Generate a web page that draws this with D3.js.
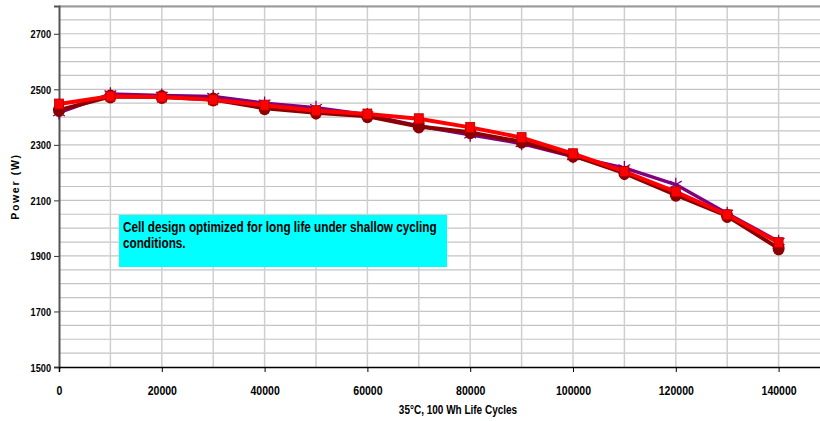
<!DOCTYPE html>
<html>
<head>
<meta charset="utf-8">
<script src="https://cdn.jsdelivr.net/npm/d3@7"></script>
<style>
  body { margin: 0; background: #fff; }
  text { font-family: "Liberation Sans Narrow", "Arial Narrow", "Liberation Sans", Arial, sans-serif; font-weight: bold; fill: #000; }
</style>
</head>
<body>
<div class="chart"></div>
<script>
// cycles on x axis
var cycles = [0, 10000, 20000, 30000, 40000, 50000, 60000, 70000, 80000, 90000, 100000, 110000, 120000, 130000, 140000];

// three cells
var cellPurple = [2416, 2483, 2478, 2474, 2450, 2434, 2408, 2368, 2336, 2305, 2258, 2217, 2157, 2053, 1952];
var cellMaroon = [2425, 2474, 2472, 2463, 2432, 2416, 2403, 2366, 2345, 2311, 2261, 2198, 2120, 2044, 1927];
var cellRed    = [2447, 2475, 2472, 2462, 2443, 2423, 2411, 2394, 2363, 2326, 2268, 2204, 2131, 2048, 1948];

var yTickValues = [1500, 1700, 1900, 2100, 2300, 2500, 2700];
var xTickValues = [0, 20000, 40000, 60000, 80000, 100000, 120000, 140000];

var note = ["Cell design optimized for long life under shallow cycling", "conditions."];

var svgWidth = 820;
var svgHeight = 421;
var margin = { top: 6, left: 59, bottom: 54 };
var plotBottom = svgHeight - margin.bottom;

var svg = d3.select(".chart")
  .append("svg")
  .attr("width", svgWidth)
  .attr("height", svgHeight);

// x goes a bit past the right edge of the picture
var x = d3.scaleLinear().domain([0, 150000]).range([margin.left, 830]);
var y = d3.scaleLinear().domain([1500, 2800]).range([plotBottom, margin.top]);

// the original text is a condensed face, squeeze ours sideways around its anchor
function squeeze(sel, sx) {
  sel.each(function() {
    var t = d3.select(this);
    var ax = +t.attr("x") || 0;
    t.attr("transform", "translate(" + ax + ",0) scale(" + sx + ",1) translate(" + (-ax) + ",0)");
  });
}

// grid
svg.append("g")
  .selectAll("line")
  .data(d3.range(1550, 2801, 50))
  .enter().append("line")
  .attr("x1", margin.left).attr("x2", svgWidth)
  .attr("y1", function(d) { return y(d); })
  .attr("y2", function(d) { return y(d); })
  .attr("stroke", "#c4c4c4")
  .attr("stroke-width", 1.2);

svg.append("g")
  .selectAll("line")
  .data(d3.range(10000, 150001, 10000))
  .enter().append("line")
  .attr("x1", function(d) { return x(d); })
  .attr("x2", function(d) { return x(d); })
  .attr("y1", margin.top).attr("y2", plotBottom)
  .attr("stroke", "#cfcfcf")
  .attr("stroke-width", 1.5);

// top border
svg.append("line")
  .attr("x1", margin.left).attr("x2", svgWidth)
  .attr("y1", margin.top + 0.5).attr("y2", margin.top + 0.5)
  .attr("stroke", "#9a9a9a")
  .attr("stroke-width", 2);

// axes
var leftAxis = d3.axisLeft(y).tickValues(yTickValues).tickSize(5).tickPadding(3).tickFormat(d3.format("d"));
var bottomAxis = d3.axisBottom(x).tickValues(xTickValues).tickSize(5).tickPadding(13).tickFormat(d3.format("d"));

var gy = svg.append("g")
  .attr("transform", "translate(" + margin.left + ",0)")
  .call(leftAxis);
gy.select(".domain").attr("stroke", "#555").attr("stroke-width", 2);
gy.selectAll(".tick line").attr("stroke", "#333");
gy.selectAll(".tick text").style("font-size", "11.5px").attr("dy", "0.35em");
squeeze(gy.selectAll(".tick text"), 0.8);

var gx = svg.append("g")
  .attr("transform", "translate(0," + plotBottom + ")")
  .call(bottomAxis);
gx.select(".domain").attr("stroke", "#000").attr("stroke-width", 1.5);
gx.selectAll(".tick line").attr("stroke", "#000");
gx.selectAll(".tick text").style("font-size", "13.5px");
squeeze(gx.selectAll(".tick text"), 0.78);

// axis titles
svg.append("text")
  .attr("transform", "translate(19," + (y(2150)) + ") rotate(-90)")
  .attr("text-anchor", "middle")
  .style("font-family", "'Liberation Sans', Arial, sans-serif")
  .style("font-size", "10.5px")
  .style("letter-spacing", "1.7px")
  .text("Power (W)");

var xTitle = svg.append("text")
  .attr("x", 458)
  .attr("y", 414)
  .attr("text-anchor", "middle")
  .style("font-size", "12.5px")
  .text("35°C, 100 Wh Life Cycles");
squeeze(xTitle, 0.8);

// note box
var noteG = svg.append("g");
noteG.append("rect")
  .attr("x", 119).attr("y", 215)
  .attr("width", 328).attr("height", 52)
  .attr("fill", "#00ffff");
var noteText = noteG.selectAll("text.note")
  .data(note)
  .enter().append("text")
  .attr("class", "note")
  .attr("x", 123)
  .attr("y", function(d, i) { return 232 + i * 16; })
  .style("font-size", "14.5px")
  .text(function(d) { return d; });
squeeze(noteText, 0.81);

// lines
var series = [
  { name: "purple", values: cellPurple, color: "#800080", width: 3.5 },
  { name: "maroon", values: cellMaroon, color: "#8b0000", width: 4 },
  { name: "red", values: cellRed, color: "#ff0000", width: 4 }
];

var line = d3.line()
  .x(function(d) { return x(d[0]); })
  .y(function(d) { return y(d[1]); });

series.forEach(function(s) {
  var pts = cycles.map(function(c, i) { return [c, s.values[i]]; });
  svg.append("path")
    .datum(pts)
    .attr("fill", "none")
    .attr("stroke", s.color)
    .attr("stroke-width", s.width)
    .attr("stroke-linejoin", "round")
    .attr("d", line);

  var g = svg.append("g");
  if (s.name === "purple") {
    g.selectAll("path")
      .data(pts)
      .enter().append("path")
      .attr("transform", function(d) { return "translate(" + x(d[0]) + "," + y(d[1]) + ")"; })
      .attr("d", d3.symbol().type(d3.symbolAsterisk).size(130))
      .attr("fill", "none")
      .attr("stroke", "#800080")
      .attr("stroke-width", 1.3);
  } else if (s.name === "maroon") {
    g.selectAll("ellipse")
      .data(pts)
      .enter().append("ellipse")
      .attr("cx", function(d) { return x(d[0]); })
      .attr("cy", function(d) { return y(d[1]); })
      .attr("rx", 6).attr("ry", 7)
      .attr("fill", "#8b0000");
  } else {
    g.selectAll("rect")
      .data(pts)
      .enter().append("rect")
      .attr("x", function(d) { return x(d[0]) - 4.5; })
      .attr("y", function(d) { return y(d[1]) - 5; })
      .attr("width", 9).attr("height", 10)
      .attr("fill", "#ff0000")
      .attr("stroke", "#b00000")
      .attr("stroke-width", 0.8);
  }
});
</script>
</body>
</html>
